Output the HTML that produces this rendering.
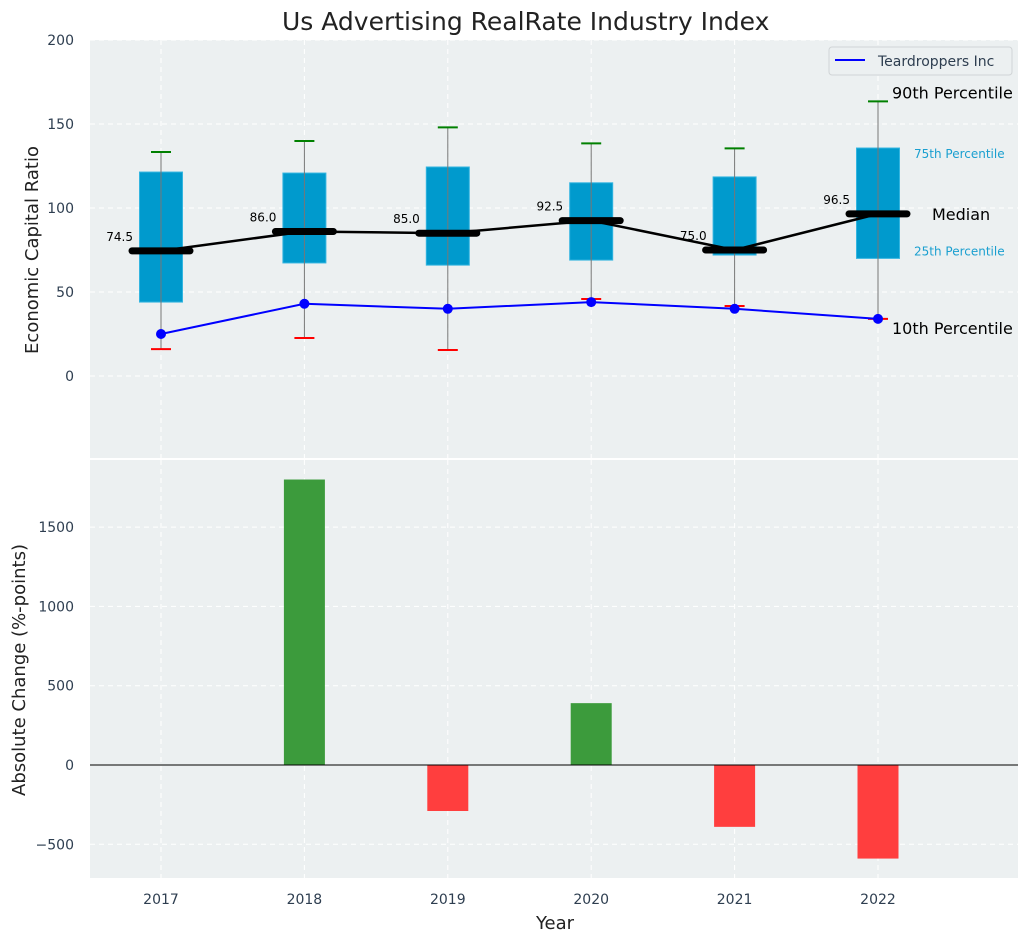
<!DOCTYPE html>
<html><head><meta charset="utf-8"><style>
body{margin:0;background:#fff;font-family:"Liberation Sans","DejaVu Sans",sans-serif}
svg text{font-family:"DejaVu Sans","Liberation Sans",sans-serif}
</style></head><body>
<svg id="c" width="1029" height="942" xmlns="http://www.w3.org/2000/svg"></svg>
<script>
const years=[2017,2018,2019,2020,2021,2022];
const q1=[44,67.3,66,69,72,70];
const q3=[121.4,120.8,124.4,115,118.5,135.7];
const p90=[133.3,139.9,148,138.5,135.5,163.5];
const p10=[16,22.6,15.5,45.8,41.7,34];
const medians=[74.5,86,85,92.5,75,96.5];
const company=[25,43,40,44,40,34];
const changes=[0,1800,-290,390,-390,-590];
const topTicks=[0,50,100,150,200];
const botTicks=[-500,0,500,1000,1500];

const svg=document.getElementById('c');const NS='http://www.w3.org/2000/svg';
function el(t,a,p){const e=document.createElementNS(NS,t);for(const k in a)e.setAttribute(k,a[k]);(p||svg).appendChild(e);return e;}
const X=v=>161+(v-2017)*143.4;
const Yt=v=>376-v*1.68;
const Yb=v=>765-v*0.1586;
const L=90,R=1018;
// panels
let p=el('rect',{x:L,y:40,width:R-L,height:418,fill:'#ecf0f1'});
p=el('rect',{x:L,y:460,width:R-L,height:418,fill:'#ecf0f1'});
// grid
years.forEach(y=>{el('line',{x1:X(y),x2:X(y),y1:40,y2:458,stroke:'#fff','stroke-dasharray':'5,4','stroke-width':1});el('line',{x1:X(y),x2:X(y),y1:460,y2:878,stroke:'#fff','stroke-dasharray':'5,4','stroke-width':1});
let t=el('text',{x:X(y),y:904,'text-anchor':'middle','font-size':14,fill:'#2e3e50'});t.textContent=y;});
topTicks.forEach(v=>{el('line',{x1:L,x2:R,y1:Yt(v),y2:Yt(v),stroke:'#fff','stroke-dasharray':'5,4'});let t=el('text',{x:74,y:Yt(v)+5,'text-anchor':'end','font-size':14,fill:'#2e3e50'});t.textContent=v;});
botTicks.forEach(v=>{el('line',{x1:L,x2:R,y1:Yb(v),y2:Yb(v),stroke:'#fff','stroke-dasharray':'5,4'});let t=el('text',{x:74,y:Yb(v)+5,'text-anchor':'end','font-size':14,fill:'#2e3e50'});t.textContent=v<0?'−'+(-v):v;});
// boxes
years.forEach((y,i)=>{const x=X(y);
let b=el('rect',{x:x-21.5,y:Yt(q3[i]),width:43,height:Yt(q1[i])-Yt(q3[i]),fill:'#009acd',stroke:'#33b5e0','stroke-width':1});
el('line',{x1:x,x2:x,y1:Yt(p90[i]),y2:Yt(p10[i]),stroke:'#777','stroke-width':1});
el('line',{x1:x-10,x2:x+10,y1:Yt(p90[i]),y2:Yt(p90[i]),stroke:'green','stroke-width':2});
el('line',{x1:x-10,x2:x+10,y1:Yt(p10[i]),y2:Yt(p10[i]),stroke:'red','stroke-width':2});});
// median line
let pl=el('polyline',{points:years.map((y,i)=>X(y)+','+Yt(medians[i])).join(' '),fill:'none',stroke:'#000','stroke-width':2.5});
years.forEach((y,i)=>{const x=X(y);let m=el('line',{x1:x-29,x2:x+29,y1:Yt(medians[i]),y2:Yt(medians[i]),stroke:'#000','stroke-width':7,'stroke-linecap':'round'});
let t=el('text',{x:x-28,y:Yt(medians[i])-10,'text-anchor':'end','font-size':12,fill:'#000'});t.textContent=medians[i].toFixed(1);});
// company line
pl=el('polyline',{points:years.map((y,i)=>X(y)+','+Yt(company[i])).join(' '),fill:'none',stroke:'blue','stroke-width':2});
years.forEach((y,i)=>{let c=el('circle',{cx:X(y),cy:Yt(company[i]),r:5,fill:'blue'});});
// annotations
const xl=X(2022);
function ann(txt,x,y,fs,col,name){let t=el('text',{x:x,y:y,'font-size':fs,fill:col});t.textContent=txt;}
ann('90th Percentile',xl+14,Yt(p90[5])-3,16,'#000','p90-annotation');
ann('75th Percentile',xl+36,Yt(q3[5])+10,12,'#1a9fd0','p75-annotation');
ann('Median',xl+54,Yt(medians[5])+6,16,'#000','median-annotation');
ann('25th Percentile',xl+36,Yt(q1[5])-3,12,'#1a9fd0','p25-annotation');
ann('10th Percentile',xl+14,Yt(company[5])+15,16,'#000','p10-annotation');
// legend
let lg=el('g',{});
el('rect',{x:829,y:47,width:183,height:28,rx:3,fill:'#ecf0f1',stroke:'#d0d4d6'},lg);
el('line',{x1:835,x2:865,y1:60,y2:60,stroke:'blue','stroke-width':2},lg);
let lt=el('text',{x:878,y:66,'font-size':14,fill:'#2e3e50'},lg);lt.textContent='Teardroppers Inc';
// bars
years.forEach((y,i)=>{const v=changes[i];if(v===0)return;const y0=Yb(Math.max(v,0)),y1=Yb(Math.min(v,0));
let r=el('rect',{x:X(y)-20.5,y:y0,width:41,height:y1-y0,fill:v>0?'#3c9b3c':'#ff3e3e'});});
el('line',{x1:L,x2:R,y1:Yb(0),y2:Yb(0),stroke:'#000','stroke-width':1});
// titles
ann('Us Advertising RealRate Industry Index',282,30,25,'#222','chart-title');
let t=el('text',{x:555,y:929,'text-anchor':'middle','font-size':18,fill:'#222'});t.textContent='Year';
t=el('text',{x:38,y:250,'text-anchor':'middle','font-size':18,fill:'#222',transform:'rotate(-90 38 250)'});t.textContent='Economic Capital Ratio';
t=el('text',{x:25,y:670,'text-anchor':'middle','font-size':18,fill:'#222',transform:'rotate(-90 25 670)'});t.textContent='Absolute Change (%-points)';
</script>
</body></html>
